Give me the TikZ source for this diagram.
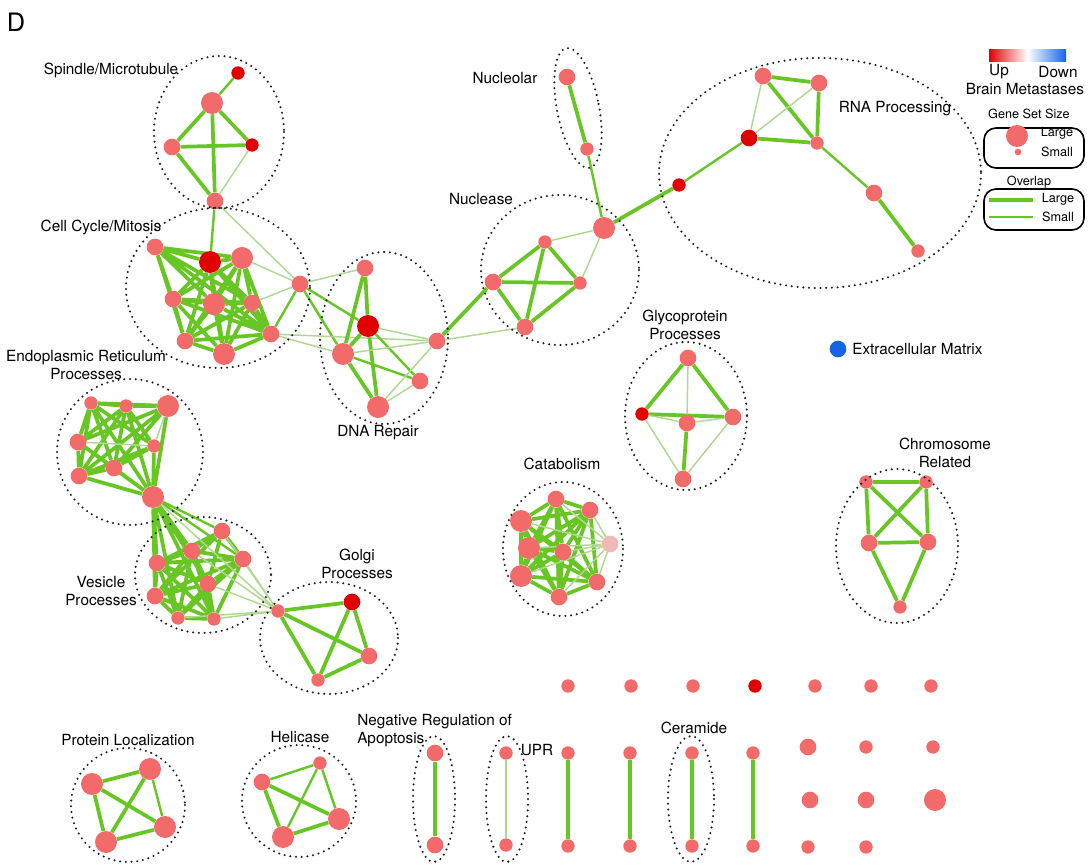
\documentclass[tikz,border=0pt]{standalone}
\usepackage{fontspec}
\setmainfont{TeX Gyre Heros}
\usetikzlibrary{backgrounds}
\definecolor{gsnorm}{RGB}{243,106,106}
\definecolor{gsup}{RGB}{225,0,0}
\definecolor{gspale}{RGB}{242,184,184}
\definecolor{gsdown}{RGB}{20,100,230}
\definecolor{ovl}{RGB}{104,198,36}
\definecolor{ovlpale}{RGB}{176,216,146}

\begin{document}
\begin{tikzpicture}[x=0.75pt,y=-0.75pt,
		big/.style={circle,fill=gsnorm,inner sep=0pt,minimum size=16.5pt},
		mid/.style={circle,fill=gsnorm,inner sep=0pt,minimum size=12.5pt},
		sml/.style={circle,fill=gsnorm,inner sep=0pt,minimum size=10pt},
		up/.style={fill=gsup},
		ovk/.style={ovl,line width=2.8pt},
		ovm/.style={ovl,line width=1.8pt},
		ovs/.style={ovlpale,line width=1.1pt},
		grp/.style={black!90,line width=1.7pt,dash pattern=on 0pt off 4.3pt,line cap=round},
		lbl/.style={font=\fontsize{11.5}{13.5}\selectfont,align=center,inner sep=0pt},
		leg/.style={font=\fontsize{9.5}{11}\selectfont,inner sep=0pt}]
		\useasboundingbox (0,0) rectangle (1090,866);

		\node[font=\fontsize{19}{21}\selectfont,inner sep=0pt] (panel) at (16,22) {D};

		% spindle / microtubule
		\node[sml,up] (s1) at (238,73) {};
		\node[big] (s2) at (212,103) {};
		\node[mid] (s3) at (172,147) {};
		\node[sml,up] (s4) at (252,145) {};
		\node[mid] (s5) at (215,201) {};
		\draw[grp] (219,132) ellipse [x radius=65, y radius=76];
		\node[lbl] (spindle) at (111,70) {Spindle/Microtubule};

		% cell cycle / mitosis
		\node[mid] (c1) at (155,247) {};
		\node[big,up] (c2) at (210,262) {};
		\node[big] (c3) at (242,258) {};
		\node[mid] (c4) at (173,299) {};
		\node[big] (c5) at (214,304) {};
		\node[mid] (c6) at (252,303) {};
		\node[mid] (c7) at (185,341) {};
		\node[big] (c8) at (224,354) {};
		\node[mid] (c9) at (271,334) {};
		\node[mid] (c10) at (300,284) {};
		\draw[grp] (218,288) ellipse [x radius=92, y radius=80];
		\node[lbl] (cellcycle) at (101,227) {Cell Cycle/Mitosis};

		% dna repair
		\node[mid] (d1) at (365,268) {};
		\node[big,up] (d2) at (368,326) {};
		\node[big] (d3) at (343,354) {};
		\node[mid] (d4) at (437,341) {};
		\node[mid] (d5) at (420,381) {};
		\node[big] (d6) at (378,407) {};
		\draw[grp] (384,338) ellipse [x radius=64, y radius=86];
		\node[lbl] (dna) at (378,433) {DNA Repair};

		% endoplasmic reticulum
		\node[sml] (e1) at (91,403) {};
		\node[sml] (e2) at (126,406) {};
		\node[big] (e3) at (168,406) {};
		\node[mid] (e4) at (78,442) {};
		\node[sml] (e5) at (154,446) {};
		\node[mid] (e6) at (114,468) {};
		\node[mid] (e7) at (79,476) {};
		\node[big] (e8) at (153,497) {};
		\draw[grp] (130,452) ellipse [x radius=73, y radius=73];
		\node[lbl] (er) at (86,365) {Endoplasmic Reticulum\\Processes};

		% vesicle
		\node[mid] (v1) at (222,531) {};
		\node[mid] (v2) at (192,551) {};
		\node[mid] (v3) at (243,559) {};
		\node[mid] (v4) at (157,563) {};
		\node[mid] (v5) at (208,584) {};
		\node[mid] (v6) at (155,596) {};
		\node[sml] (v7) at (178,618) {};
		\node[sml] (v8) at (214,619) {};
		\draw[grp] (203,575) ellipse [x radius=68, y radius=58];
		\node[lbl] (vesicle) at (101,591) {Vesicle\\Processes};

		% golgi
		\node[sml] (g1) at (278,611) {};
		\node[mid,up] (g2) at (352,602) {};
		\node[mid] (g3) at (369,656) {};
		\node[sml] (g4) at (318,680) {};
		\draw[grp] (329,638) ellipse [x radius=69, y radius=56];
		\node[lbl] (golgi) at (357,564) {Golgi\\Processes};

		% nucleolar, nuclease
		\node[mid] (no1) at (567,77) {};
		\node[sml] (no2) at (587,149) {};
		\draw[grp,rotate around={11:(578,108)}] (578,108) ellipse [x radius=21, y radius=61];
		\node[lbl] (nucleolar) at (505,78) {Nucleolar};
		\node[big] (n1) at (604,228) {};
		\node[sml] (n2) at (545,242) {};
		\node[mid] (n3) at (493,282) {};
		\node[sml] (n4) at (580,283) {};
		\node[mid] (n5) at (525,327) {};
		\draw[grp] (560,270) ellipse [x radius=79, y radius=75];
		\node[lbl] (nuclease) at (481,199) {Nuclease};

		% rna processing
		\node[sml,up] (r1) at (679,185) {};
		\node[mid,up] (r2) at (749,138) {};
		\node[mid] (r3) at (763,76) {};
		\node[mid] (r4) at (819,83) {};
		\node[sml] (r5) at (817,143) {};
		\node[mid] (r6) at (874,193) {};
		\node[sml] (r7) at (918,251) {};
		\draw[grp] (820,173) ellipse [x radius=161, y radius=115];
		\node[lbl] (rna) at (895,109) {RNA Processing};

		% glycoprotein
		\node[mid] (gp1) at (688,358) {};
		\node[sml,up] (gp2) at (642,414) {};
		\node[mid] (gp3) at (687,423) {};
		\node[mid] (gp4) at (733,417) {};
		\node[mid] (gp5) at (683,479) {};
		\draw[grp] (686,416) ellipse [x radius=61, y radius=74];
		\node[lbl] (glyco) at (685,325) {Glycoprotein\\Processes};

		% extracellular matrix
		\node[mid,fill=gsdown] (ecm) at (838,349) {};
		\node[lbl,anchor=west] (ecmlbl) at (852,349) {Extracellular Matrix};

		% chromosome
		\node[sml] (ch1) at (866,482) {};
		\node[sml] (ch2) at (926,482) {};
		\node[mid] (ch3) at (869,543) {};
		\node[mid] (ch4) at (928,542) {};
		\node[sml] (ch5) at (900,607) {};
		\draw[grp] (897,546) ellipse [x radius=61, y radius=77];
		\node[lbl] (chrom) at (945,453) {Chromosome\\Related};

		% catabolism
		\node[mid] (k1) at (556,499) {};
		\node[mid] (k2) at (590,510) {};
		\node[big] (k3) at (521,521) {};
		\node[big] (k4) at (529,548) {};
		\node[mid] (k5) at (563,552) {};
		\node[mid,fill=gspale] (k6) at (610,544) {};
		\node[big] (k7) at (521,576) {};
		\node[mid] (k8) at (597,582) {};
		\node[mid] (k9) at (559,597) {};
		\draw[grp] (563,549) ellipse [x radius=60, y radius=67];
		\node[lbl] (catab) at (562,464) {Catabolism};

		% protein localization, helicase
		\node[big] (p1) at (92,784) {};
		\node[big] (p2) at (150,769) {};
		\node[big] (p3) at (106,842) {};
		\node[big] (p4) at (165,827) {};
		\draw[grp] (128,805) ellipse [x radius=57, y radius=57];
		\node[lbl] (protloc) at (128,740) {Protein Localization};
		\node[mid] (h1) at (262,782) {};
		\node[sml] (h2) at (320,763) {};
		\node[big] (h3) at (283,837) {};
		\node[big] (h4) at (339,819) {};
		\draw[grp] (299,801) ellipse [x radius=57, y radius=56];
		\node[lbl] (helic) at (300,737) {Helicase};

		% pairs
		\node[mid] (a1) at (435,753) {};
		\node[mid] (a2) at (435,845) {};
		\draw[grp] (434,799) ellipse [x radius=21, y radius=63];
		\node[lbl,anchor=west,align=left] (apop) at (357,731) {Negative Regulation of\\Apoptosis};
		\node[sml] (u1) at (506,753) {};
		\node[sml] (u2) at (506,845) {};
		\draw[grp] (507,799) ellipse [x radius=21, y radius=63];
		\node[lbl] (upr) at (537,750) {UPR};
		\node[sml] (q1) at (568,753) {};
		\node[sml] (q2) at (568,846) {};
		\node[sml] (q3) at (630,753) {};
		\node[sml] (q4) at (630,846) {};
		\node[sml] (q5) at (692,753) {};
		\node[sml] (q6) at (692,846) {};
		\draw[grp] (691,799) ellipse [x radius=23, y radius=63];
		\node[lbl] (ceram) at (694,728) {Ceramide};
		\node[sml] (q7) at (753,753) {};
		\node[sml] (q8) at (753,846) {};

		% single gene sets
		\node[sml] (t1) at (568,686) {};
		\node[sml] (t2) at (631,686) {};
		\node[sml] (t3) at (693,686) {};
		\node[sml,up] (t4) at (755,686) {};
		\node[sml] (t5) at (815,686) {};
		\node[sml] (t6) at (871,686) {};
		\node[sml] (t7) at (931,686) {};
		\node[mid] (t8) at (808,747) {};
		\node[sml] (t9) at (866,747) {};
		\node[sml] (t10) at (933,747) {};
		\node[mid] (t11) at (810,800) {};
		\node[mid] (t12) at (866,800) {};
		\node[big] (t13) at (935,800) {};
		\node[sml] (t14) at (808,847) {};
		\node[sml] (t15) at (866,847) {};

		% overlap edges
		\begin{pgfonlayer}{background}
			\draw[ovm] (s1) -- (s2) (s5) -- (c2);
			\draw[ovk] (s2) -- (s3) (s2) -- (s4) (s2) -- (s5) (s3) -- (s4) (s3) -- (s5);
			\draw[ovs] (s4) -- (s5) (s5) -- (c10);

			\draw[ovk] (c1) -- (c2) (c1) -- (c3) (c1) -- (c4) (c1) -- (c5) (c1) -- (c6) (c1) -- (c7) (c1) -- (c9)
				(c2) -- (c3) (c2) -- (c4) (c2) -- (c5) (c2) -- (c6) (c2) -- (c7) (c2) -- (c8) (c2) -- (c9)
				(c3) -- (c4) (c3) -- (c5) (c3) -- (c6) (c3) -- (c7) (c3) -- (c8) (c3) -- (c9)
				(c4) -- (c5) (c4) -- (c6) (c4) -- (c7) (c4) -- (c8) (c4) -- (c9)
				(c5) -- (c6) (c5) -- (c7) (c5) -- (c8) (c5) -- (c9)
				(c6) -- (c7) (c6) -- (c8) (c6) -- (c9) (c7) -- (c8) (c7) -- (c9) (c8) -- (c9);
			\draw[ovm] (c9) -- (c10) (c10) -- (d2) (c10) -- (d3);
			\draw[ovs] (c3) -- (c10) (c6) -- (c10) (c10) -- (d1) (c9) -- (d3) (c9) -- (d4);

			\draw[ovk] (d1) -- (d2) (d1) -- (d3) (d2) -- (d3) (d2) -- (d6) (d3) -- (d6) (d4) -- (n3);
			\draw[ovm] (d2) -- (d5) (d3) -- (d5);
			\draw[ovs] (d2) -- (d4) (d3) -- (d4) (d6) -- (d5) (d6) -- (d4);

			\draw[ovk] (e1) -- (e2) (e1) -- (e3) (e1) -- (e4) (e1) -- (e5) (e1) -- (e6) (e1) -- (e7) (e1) -- (e8)
				(e2) -- (e3) (e2) -- (e4) (e2) -- (e5) (e2) -- (e6) (e2) -- (e7) (e2) -- (e8)
				(e3) -- (e4) (e3) -- (e6) (e3) -- (e7) (e3) -- (e8)
				(e4) -- (e6) (e4) -- (e7) (e4) -- (e8) (e5) -- (e6) (e5) -- (e7) (e5) -- (e8)
				(e6) -- (e7) (e6) -- (e8) (e7) -- (e8);
			\draw[ovs] (e4) -- (e5) (e3) -- (e5);

			\draw[ovk] (e8) -- (v2) (e8) -- (v4) (e8) -- (v5) (e8) -- (v6) (e8) -- (v7) (e8) -- (v8)
				(v1) -- (v2) (v1) -- (v3) (v1) -- (v4) (v1) -- (v5) (v1) -- (v6)
				(v2) -- (v3) (v2) -- (v4) (v2) -- (v5) (v2) -- (v6) (v2) -- (v7) (v2) -- (v8)
				(v3) -- (v4) (v3) -- (v5) (v3) -- (v6) (v3) -- (v7) (v3) -- (v8)
				(v4) -- (v5) (v4) -- (v6) (v4) -- (v7) (v4) -- (v8)
				(v5) -- (v6) (v5) -- (v7) (v5) -- (v8) (v6) -- (v7) (v6) -- (v8) (v7) -- (v8);
			\draw[ovm] (e8) -- (v1) (e8) -- (v3);
			\draw[ovs] (e8) -- (g1) (v1) -- (g1) (v2) -- (g1) (v3) -- (g1) (v5) -- (g1) (v7) -- (g1) (v8) -- (g1);

			\draw[ovk] (g1) -- (g2) (g1) -- (g3) (g1) -- (g4) (g2) -- (g3) (g2) -- (g4) (g3) -- (g4);

			\draw[ovk] (no1) -- (no2) (n1) -- (r1);
			\draw[ovm] (no2) -- (n1);
			\draw[ovk] (n2) -- (n3) (n2) -- (n4) (n2) -- (n5) (n3) -- (n4) (n3) -- (n5) (n4) -- (n5);
			\draw[ovs] (n1) -- (n2) (n1) -- (n4) (n5) -- (d4);

			\draw[ovm] (r1) -- (r2) (r5) -- (r6);
			\draw[ovk] (r2) -- (r5) (r3) -- (r4) (r3) -- (r5) (r4) -- (r5) (r6) -- (r7);
			\draw[ovs] (r2) -- (r3) (r2) -- (r4);

			\draw[ovk] (gp1) -- (gp2) (gp1) -- (gp4) (gp2) -- (gp4) (gp3) -- (gp5);
			\draw[ovs] (gp1) -- (gp3) (gp2) -- (gp3) (gp3) -- (gp4) (gp2) -- (gp5) (gp4) -- (gp5);

			\draw[ovk] (ch1) -- (ch2) (ch1) -- (ch3) (ch1) -- (ch4) (ch2) -- (ch3) (ch2) -- (ch4)
				(ch3) -- (ch4) (ch3) -- (ch5) (ch4) -- (ch5);

			\draw[ovk] (k1) -- (k2) (k1) -- (k3) (k1) -- (k4) (k1) -- (k5) (k1) -- (k7) (k1) -- (k8) (k1) -- (k9)
				(k2) -- (k3) (k2) -- (k4) (k2) -- (k5) (k2) -- (k7) (k2) -- (k8) (k2) -- (k9)
				(k3) -- (k4) (k3) -- (k5) (k3) -- (k7) (k3) -- (k8) (k3) -- (k9)
				(k4) -- (k5) (k4) -- (k7) (k4) -- (k8) (k4) -- (k9)
				(k5) -- (k7) (k5) -- (k8) (k5) -- (k9) (k7) -- (k8) (k7) -- (k9) (k8) -- (k9);
			\draw[ovs] (k6) -- (k1) (k6) -- (k2) (k6) -- (k3) (k6) -- (k4) (k6) -- (k5) (k6) -- (k7) (k6) -- (k8) (k6) -- (k9);

			\draw[ovk] (p1) -- (p2) (p1) -- (p3) (p1) -- (p4) (p2) -- (p3) (p3) -- (p4);
			\draw[ovm] (p2) -- (p4);
			\draw[ovk] (h1) -- (h3) (h1) -- (h4) (h3) -- (h4);
			\draw[ovm] (h1) -- (h2) (h2) -- (h4) (h2) -- (h3);

			\draw[ovk] (a1) -- (a2) (q1) -- (q2) (q3) -- (q4) (q5) -- (q6) (q7) -- (q8);
			\draw[ovs] (u1) -- (u2);
		\end{pgfonlayer}

		% legend
		\shade[left color=gsup,right color=gsdown,middle color=white] (989,50) rectangle (1066,62);
		\node[lbl] (lgup) at (999,72) {Up};
		\node[lbl] (lgdown) at (1058,72) {Down};
		\node[lbl] (lgbrain) at (1025,89) {Brain Metastases};
		\node[leg] (lgsize) at (1029,114) {Gene Set Size};
		\draw[line width=1.2pt,rounded corners=9pt] (984,128) rectangle (1084,168);
		\node[big] (lgbig) at (1017,136) {};
		\node[circle,fill=gsnorm,inner sep=0pt,minimum size=5pt] (lgsml) at (1018,152) {};
		\node[leg] (lglarge) at (1057,133) {Large};
		\node[leg] (lgsmall) at (1057,152) {Small};
		\node[leg] (lgovl) at (1029,182) {Overlap};
		\draw[line width=1.2pt,rounded corners=9pt] (984,189) rectangle (1084,230);
		\coordinate (lk1) at (989,200);
		\coordinate (lk2) at (1033,200);
		\coordinate (ls1) at (989,217);
		\coordinate (ls2) at (1033,217);
		\draw[ovk] (lk1) -- (lk2);
		\draw[ovl,line width=1.2pt] (ls1) -- (ls2);
		\node[leg] (lglarge2) at (1058,199) {Large};
		\node[leg] (lgsmall2) at (1058,217) {Small};
\end{tikzpicture}
\end{document}
